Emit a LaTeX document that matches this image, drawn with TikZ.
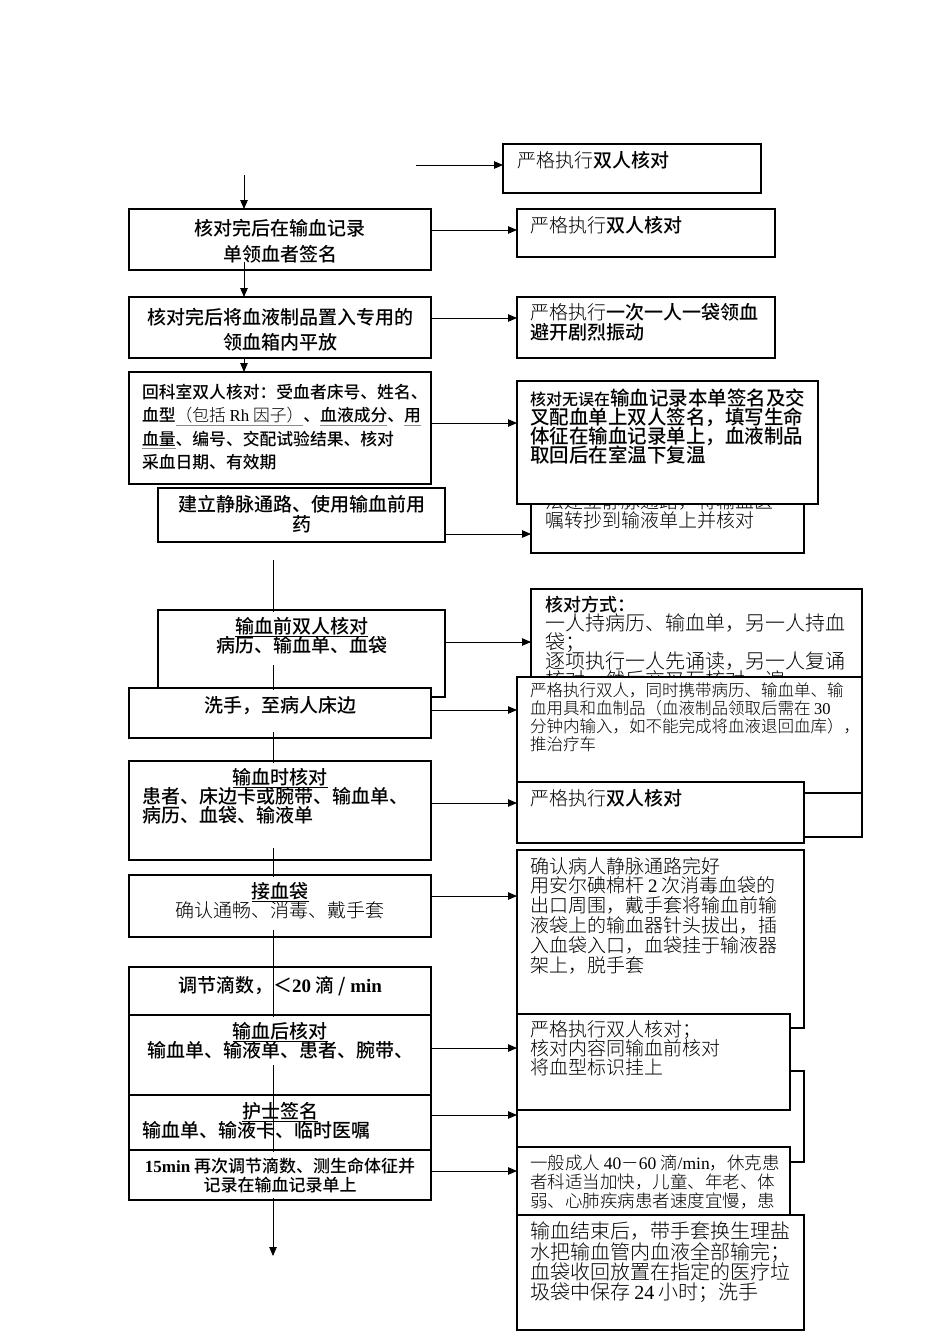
\documentclass[tikz,border=0pt]{standalone}
\usepackage{fontspec}
\setmainfont{Noto Sans CJK SC Light}[BoldFont={Noto Sans CJK SC Medium}]
\newfontfamily\lat{Liberation Serif}
\usetikzlibrary{arrows.meta}
\newcommand\fz[2]{\fontsize{#1}{#2}\selectfont\lineskiplimit=-50pt\lineskip=0pt\relax}
\newcommand\gul[1]{\textcolor{black!45}{\underline{\textcolor{black}{#1}}}}
\newcommand\bx[5]{\node[box, minimum width=#4pt, minimum height=#5pt] (#1) at (#2,#3) {};}
\newcommand\harrow[3]{\path (#1.north east) ++(0,#3) coordinate (h#1); \draw[conn] (h#1) -- (h#1 -| #2.west);}
\tikzset{
  box/.style={draw=black, line width=1.3pt, fill=white, inner sep=0pt, outer sep=0pt, anchor=north west},
  conn/.style={draw=black, line width=0.9pt, -{Triangle[length=9pt,width=7.5pt]}},
  tl/.style={inner sep=0pt, outer sep=0pt, anchor=north west, align=left},
  tc/.style={inner sep=0pt, outer sep=0pt, anchor=north, align=center},
  maskfill/.style={fill=white},
}
\begin{document}
\begin{tikzpicture}[x=1pt,y=-1pt]
\useasboundingbox[fill=white] (0,0) rectangle (950,1344);

% ---------- upper part ----------
\bx{R1}{503}{144}{258}{49}
\node[tl, font=\fz{19}{19}] (tR1) at (517,151) {严格执行\textbf{双人核对}};
\bx{L1}{129}{209}{302}{61}
\node[tc, font=\fz{19}{26}\bfseries] (tL1) at (280,219) {核对完后在输血记录\\单领血者签名};
\bx{R2}{517}{209}{258}{48}
\node[tl, font=\fz{19}{19}] (tR2) at (530,216) {严格执行\textbf{双人核对}};
\bx{L2}{129}{297}{302}{61}
\node[tc, font=\fz{19}{25}\bfseries] (tL2) at (280,308) {核对完后将血液制品置入专用的\\领血箱内平放};
\bx{R3}{517}{297}{258}{61}
\node[tl, font=\fz{19}{20}] (tR3) at (530,303) {严格执行\textbf{一次一人一袋领血}\\\textbf{避开剧烈振动}};
\bx{L3}{129}{372}{302}{112}
\node[tl, font=\fz{16.8}{23.5}\bfseries] (tL3) at (142,384) {回科室双人核对：受血者床号、姓名、\\血型\gul{\mdseries（包括 {\lat Rh} 因子）}、\gul{血液成分}、\gul{用}\\\gul{血量}、编号、交配试验结果、核对\\采血日期、有效期};

\bx{R5}{531}{495}{273}{58}
\node[tl, font=\fz{19}{19}] (tR5) at (545,493) {法建立静脉通路，将输血医\\嘱转抄到输液单上并核对};
\bx{R4}{517}{381}{301}{123}
\node[tl, font=\fz{19.5}{19}\bfseries] (tR4) at (530,389) {{\fontsize{16}{19}\selectfont 核对无误在}输血记录本单签名及交\\叉配血单上双人签名，填写生命\\体征在输血记录单上，血液制品\\取回后在室温下复温};
\bx{L4}{158}{488}{287}{54}
\node[tc, font=\fz{19}{20}\bfseries] (tL4) at (301.5,495) {建立静脉通路、使用输血前用\\药};

% ---------- middle part ----------
\bx{L5}{158}{610}{287}{87}
\bx{L6}{129}{688}{302}{50}
\bx{R6}{531}{589}{331}{248}
\node[tl, font=\fz{20}{19}] (tR6) at (545,596) {{\bfseries\fontsize{18}{19}\selectfont 核对方式：}\\一人持病历、输血单，另一人持血\\袋；\\逐项执行一人先诵读，另一人复诵\\核对，然后交叉互核对一遍};
\bx{R7}{517}{677}{345}{116}
\node[tl, font=\fz{16.5}{18}] (tR7) at (530,683) {严格执行双人，同时携带病历、输血单、输\\血用具和血制品（血液制品领取后需在 {\lat 30}\\分钟内输入，如不能完成将血液退回血库），\\推治疗车};
\bx{R8}{517}{782}{287}{61}
\node[tl, font=\fz{19}{19}] (tR8) at (530,789) {严格执行\textbf{双人核对}};
\bx{L7}{129}{761}{302}{99}
\bx{L8}{129}{875}{302}{62}
\bx{L9}{129}{967}{302}{48}
\bx{L10}{129}{1015}{302}{80}
\bx{L11}{129}{1095}{302}{55}
\bx{L12}{129}{1150}{302}{50}

% ---------- lower right ----------
\bx{R9}{517}{850}{287}{178}
\node[tl, font=\fz{19}{19.8}] (tR9) at (530,857) {确认病人静脉通路完好\\用安尔碘棉杆 {\lat 2} 次消毒血袋的\\出口周围，戴手套将输血前输\\液袋上的输血器针头拔出，插\\入血袋入口，血袋挂于输液器\\架上，脱手套};
\bx{R11}{517}{1071}{287}{91}
\bx{R10}{517}{1014}{273}{96}
\node[tl, font=\fz{19}{19}] (tR10) at (530,1021) {严格执行双人核对；\\核对内容同输血前核对\\将血型标识挂上};
\bx{R12}{517}{1147}{273}{93}
\node[tl, font=\fz{17.5}{19}] (tR12) at (530,1155) {一般成人 {\lat 40}－{\lat 60} 滴{\lat /min}，休克患\\者科适当加快，儿童、年老、体\\弱、心肺疾病患者速度宜慢，患};
\bx{R13}{517}{1215}{287}{115}
\node[tl, font=\fz{20}{20.3}] (tR13) at (530,1222) {输血结束后，带手套换生理盐\\水把输血管内血液全部输完；\\血袋收回放置在指定的医疗垃\\圾袋中保存 {\lat 24} 小时；洗手};

% ---------- main vertical line ----------
\coordinate (m0) at (273,560);
\coordinate (m1) at (273,1256);
\draw[conn] (m0) -- (m1);

% text frames covering the line
\fill[maskfill] (160,612) rectangle (443,665);
\fill[maskfill] (131,690) rectangle (429,732);
\fill[maskfill] (131,763) rectangle (429,848);
\fill[maskfill] (131,877) rectangle (429,930);
\fill[maskfill] (131,1017) rectangle (429,1065);
\fill[maskfill] (131,1152) rectangle (429,1198);

% left texts
\node[tc, font=\fz{19}{19}\bfseries] (tL5) at (301.5,617) {\underline{输血前双人核对}\\病历、输血单、血袋};
\node[tc, font=\fz{19}{19}\bfseries] (tL6) at (280,696) {洗手，至病人床边};
\node[tc, font=\fz{19}{19}\bfseries] (tL7a) at (280,768) {\underline{输血时核对}};
\node[tl, font=\fz{19}{19}\bfseries] (tL7b) at (142,787) {患者、床边卡或腕带、输血单、\\病历、血袋、输液单};
\node[tc, font=\fz{19}{19}] (tL8) at (280,882) {\textbf{\underline{接血袋}}\\确认通畅、消毒、戴手套};
\node[tc, font=\fz{19}{19}\bfseries] (tL9) at (280,976) {调节滴数，＜{\lat 20} 滴 / {\lat min}};
\node[tc, font=\fz{19}{19}\bfseries] (tL10) at (280,1022) {\underline{输血后核对}\\输血单、输液单、患者、腕带、};
\node[tc, font=\fz{19}{19}\bfseries] (tL11a) at (280,1102) {\underline{护士签名}};
\node[tl, font=\fz{19}{19}\bfseries] (tL11b) at (142,1121) {输血单、输液卡、临时医嘱};
\node[tc, font=\fz{17}{19}\bfseries] (tL12) at (280,1158) {{\lat 15min} 再次调节滴数、测生命体征并\\记录在输血记录单上};

% ---------- connectors ----------
\coordinate (t0) at (416,165);
\draw[conn] (t0) -- (t0 -| R1.west);
\coordinate (v0) at (244,175);
\draw[conn] (v0) -- (v0 |- L1.north);
\coordinate (v1) at (244,262);
\draw[conn] (v1) -- (v1 |- L2.north);
\coordinate (v2) at (244,358);
\draw[conn] (v2) -- (v2 |- L3.north);

\harrow{L1}{R2}{21}
\harrow{L2}{R3}{21}
\harrow{L3}{R4}{51}
\harrow{L4}{R5}{46}
\harrow{L5}{R6}{32}
\harrow{L6}{R7}{22}
\harrow{L7}{R8}{42}
\harrow{L8}{R9}{21}
\harrow{L10}{R10}{33}
\harrow{L11}{R11}{20}
\harrow{L12}{R12}{21}
\end{tikzpicture}
\end{document}
